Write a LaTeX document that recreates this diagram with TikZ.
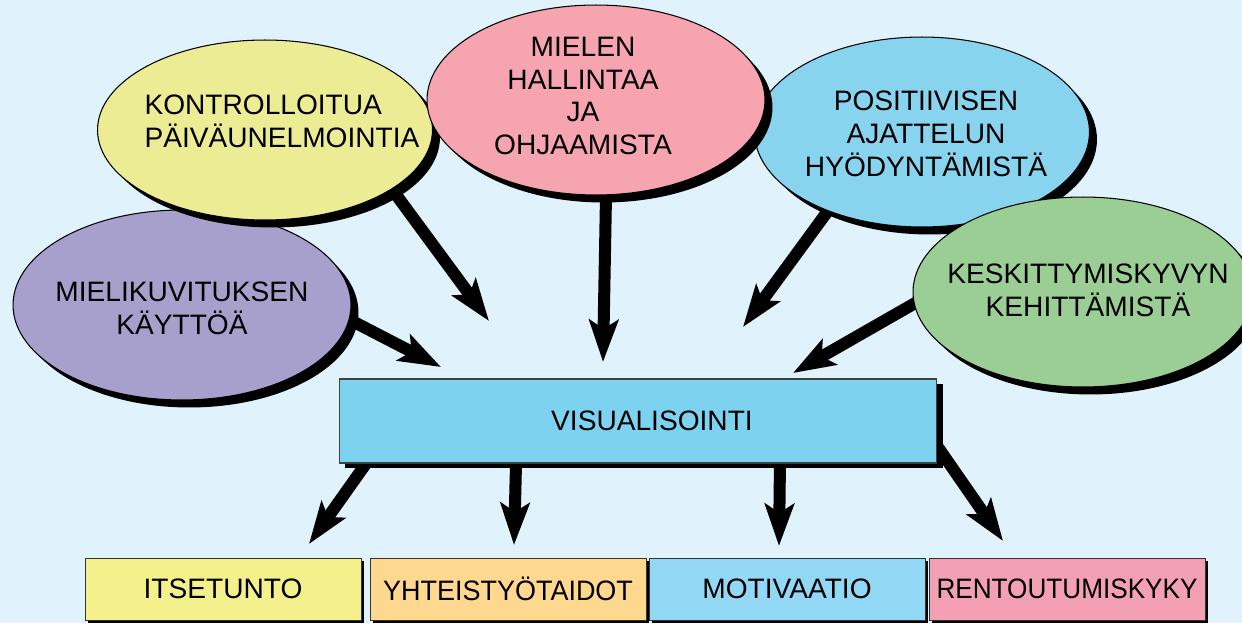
\documentclass[tikz,border=0pt]{standalone}
\usepackage{fontspec}
\usepackage{graphicx}
\setmainfont{Liberation Sans}
\usetikzlibrary{arrows.meta,shadows,shapes.geometric}
\pgfdeclarelayer{bg}
\pgfsetlayers{bg,main}
\definecolor{bgc}{RGB}{224,242,252}
\definecolor{cyel}{RGB}{236,236,148}
\definecolor{cpur}{RGB}{168,160,204}
\definecolor{cpink}{RGB}{246,164,176}
\definecolor{cblue}{RGB}{136,212,238}
\definecolor{cgreen}{RGB}{154,206,148}
\definecolor{crect}{RGB}{125,210,240}
\definecolor{byel}{RGB}{244,240,140}
\definecolor{bora}{RGB}{255,216,144}
\definecolor{bblue}{RGB}{146,216,244}
\definecolor{bpink}{RGB}{244,160,180}
\begin{document}
\begin{tikzpicture}[x=0.02cm,y=-0.02cm,
  lbl/.style={font=\fontsize{16}{18.7}\selectfont, align=center, inner sep=0pt},
  ell/.style={ellipse, draw=black, line width=0.6pt, inner sep=0pt,
    drop shadow={shadow xshift=0.15cm, shadow yshift=-0.15cm, fill=black, opacity=1}},
  bigbox/.style={draw=black!75, line width=0.6pt, inner sep=0pt, fill=crect,
    minimum width=11.96cm, minimum height=1.68cm,
    font=\fontsize{16}{18.7}\selectfont,
    drop shadow={shadow xshift=0.12cm, shadow yshift=-0.1cm, fill=black, opacity=1}},
  outbox/.style={draw=black!80, line width=0.5pt, inner sep=0pt,
    minimum width=5.52cm, minimum height=1.24cm,
    font=\fontsize{16}{18.7}\selectfont,
    drop shadow={shadow xshift=0.06cm, shadow yshift=-0.06cm, fill=black, opacity=1}},
  arr/.style={line width=0.24cm, shorten <=-0.3cm,
    -{Stealth[length=0.84cm, width=0.58cm, inset=0.18cm]}}
]
\useasboundingbox (0,0) rectangle (1242,623);
\begin{pgfonlayer}{bg}
  \fill[bgc] (0,0) rectangle (1242,623);
\end{pgfonlayer}

% ellipses
\node[ell, fill=cpur, minimum width=6.76cm, minimum height=3.8cm,
  label={[lbl,yshift=-0.06cm]center:{MIELIKUVITUKSEN\\KÄYTTÖÄ}}] (pur) at (182,305) {};
\node[ell, fill=cyel, minimum width=6.7cm, minimum height=3.6cm,
  label={[lbl,align=left,xshift=0.34cm,yshift=0.18cm]center:{KONTROLLOITUA\\PÄIVÄUNELMOINTIA}}] (yel) at (265,130) {};
\node[ell, fill=cblue, minimum width=6.7cm, minimum height=3.8cm,
  label={[lbl,xshift=0.08cm,yshift=-0.04cm]center:{POSITIIVISEN\\AJATTELUN\\HYÖDYNTÄMISTÄ}}] (blu) at (922,132) {};
\node[ell, fill=cgreen, minimum width=6.8cm, minimum height=3.8cm,
  label={[lbl,xshift=0.1cm,yshift=0.04cm]center:{KESKITTYMISKYVYN\\KEHITTÄMISTÄ}}] (gre) at (1083,292) {};
\node[ell, fill=cpink, minimum width=6.76cm, minimum height=3.8cm,
  label={[lbl,xshift=-0.26cm,yshift=0.08cm]center:{MIELEN\\HALLINTAA\\JA\\OHJAAMISTA}}] (pin) at (596,100) {};

% central box
\node[bigbox] (vis) at (638,421) {\hspace*{0.56cm}VISUALISOINTI};

% output boxes
\node[outbox, fill=byel] (o1) at (223,589) {ITSETUNTO};
\node[outbox, fill=bora] (o2) at (508,589) {\scalebox{0.96}[1]{YHTEISTYÖTAIDOT}};
\node[outbox, fill=bblue] (o3) at (787,589) {MOTIVAATIO};
\node[outbox, fill=bpink] (o4) at (1067,589) {\scalebox{0.93}[1]{RENTOUTUMISKYKY}};

% arrow tips
\coordinate (t1) at (489,321);
\coordinate (t2) at (441,367);
\coordinate (t3) at (603,362);
\coordinate (t4) at (743,327);
\coordinate (t5) at (793,373);
\coordinate (t6) at (309,544);
\coordinate (t7) at (514,545);
\coordinate (t8) at (779,546);
\coordinate (t9) at (1003,541);

\begin{pgfonlayer}{bg}
  \draw[arr] (yel.-25) -- (t1);
  \draw[arr] (pur.-5) -- (t2);
  \draw[arr] (pin.-84) -- (t3);
  \draw[arr] (blu.-140) -- (t4);
  \draw[arr] (gre.-176) -- (t5);
  \draw[arr] ([xshift=-5.44cm]vis.south) -- (t6);
  \draw[arr] ([xshift=-2.44cm]vis.south) -- (t7);
  \draw[arr] ([xshift=2.84cm]vis.south) -- (t8);
  \draw[arr] ([yshift=-0.51cm]vis.east) -- (t9);
\end{pgfonlayer}
\end{tikzpicture}
\end{document}
